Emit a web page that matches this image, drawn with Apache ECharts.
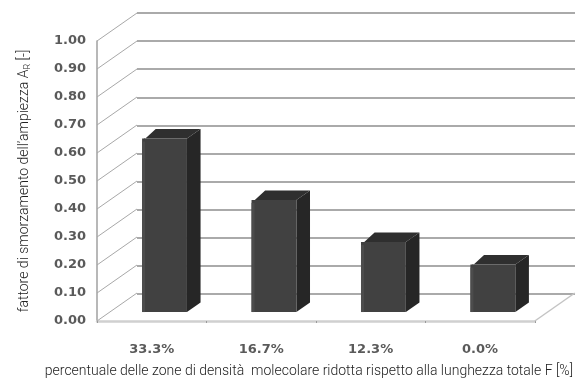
<!DOCTYPE html>
<html>
<head>
<meta charset="utf-8">
<script src="https://cdn.jsdelivr.net/npm/echarts@6/dist/echarts.min.js"></script>
<style>
  html, body { margin: 0; padding: 0; background: #fff; }
  #chart { width: 576px; height: 383px; }
</style>
</head>
<body>
<div id="chart"></div>
<script>
var categories = ['33.3%', '16.7%', '12.3%', '0.0%'];
var values = [0.62, 0.40, 0.25, 0.17];
var yTicks = [0, 0.1, 0.2, 0.3, 0.4, 0.5, 0.6, 0.7, 0.8, 0.9, 1.0];

// front plane and back wall of the fake 3d box
var front = { left: 97, right: 41, top: 41, bottom: 61 };
var back = { left: 137, right: 1, top: 13, bottom: 89 };
var DX = back.left - front.left;
var DY = back.top - front.top;

var barWidth = 0.41;
var depth0 = 0.32, depth1 = 0.66;

var chart = echarts.init(document.getElementById('chart'));

function renderBar(params, api) {
    var c = api.coord([api.value(0), api.value(1)]);
    var b = api.coord([api.value(0), 0]);
    var band = api.size([1, 0])[0];
    var w = band * barWidth;
    var xl = c[0] - w / 2 + depth0 * DX;
    var xr = xl + w;
    var yt = c[1] + depth0 * DY;
    var yb = b[1] + depth0 * DY;
    var ox = (depth1 - depth0) * DX;
    var oy = (depth1 - depth0) * DY;
    return {
        type: 'group',
        children: [
            { type: 'polygon', shape: { points: [[xr, yt], [xr + ox, yt + oy], [xr + ox, yb + oy], [xr, yb]] },
              style: { fill: '#262626' } },
            { type: 'polygon', shape: { points: [[xl + 2, yt], [xr, yt], [xr + ox, yt + oy], [xl + ox, yt + oy], [xl, yt + 3]] },
              style: { fill: '#2f2f2f' } },
            { type: 'rect', shape: { x: xl, y: yt, width: w, height: yb - yt },
              style: { fill: '#414141' } },
            { type: 'rect', shape: { x: xl, y: yt + 3, width: 3, height: yb - yt - 3 },
              style: { fill: '#4c4c4c' } }
        ]
    };
}

function renderWall(params, api) {
    var p = api.coord([0, api.value(1)]);
    var band = api.size([1, 0])[0];
    var x0 = p[0] - band / 2;
    return {
        type: 'line',
        shape: { x1: x0, y1: p[1], x2: x0 + DX, y2: p[1] + DY },
        style: { stroke: '#a8a8a8', lineWidth: 1 }
    };
}

function renderFloorEdge(params, api) {
    var p = api.coord([categories.length - 1, 0]);
    var band = api.size([1, 0])[0];
    var x0 = p[0] + band / 2;
    return {
        type: 'line',
        shape: { x1: x0, y1: p[1], x2: x0 + DX, y2: p[1] + DY },
        style: { stroke: '#c4c4c4', lineWidth: 1.5 }
    };
}

var option = {
    animation: false,
    backgroundColor: '#fff',
    grid: [
        { left: front.left, right: front.right, top: front.top, bottom: front.bottom },
        { left: back.left, right: back.right, top: back.top, bottom: back.bottom }
    ],
    xAxis: [{
        type: 'category',
        gridIndex: 0,
        data: categories,
        axisLine: { lineStyle: { color: '#d0d0d0', width: 2.5 } },
        axisTick: { show: true, length: 2, lineStyle: { color: '#999' } },
        axisLabel: {
            margin: 22,
            color: '#5a5a5a',
            fontFamily: 'DejaVu Sans',
            fontWeight: 'bold',
            fontSize: 13
        },
        name: 'percentuale delle zone di densità  molecolare ridotta rispetto alla lunghezza totale F [%]',
        nameLocation: 'middle',
        nameGap: 43,
        nameTextStyle: {
            color: '#222',
            fontFamily: 'Roboto',
            fontWeight: 300,
            fontSize: 14,
            padding: [0, 14, 0, 0]
        }
    }, {
        type: 'category',
        gridIndex: 1,
        data: categories,
        show: false
    }],
    yAxis: [{
        type: 'value',
        gridIndex: 0,
        min: 0,
        max: 1,
        interval: 0.1,
        axisLine: { show: true, lineStyle: { color: '#a0a0a0', width: 1.5 } },
        axisTick: { show: false },
        splitLine: { show: false },
        axisLabel: {
            margin: 11,
            color: '#5a5a5a',
            fontFamily: 'DejaVu Sans',
            fontWeight: 'bold',
            fontSize: 13,
            formatter: function (val) {
                return val.toFixed(2);
            }
        },
        name: 'fattore di smorzamento dell\u2019ampiezza A{sub|R} [-]',
        nameLocation: 'middle',
        nameGap: 65,
        nameTextStyle: {
            color: '#222',
            fontFamily: 'Roboto',
            fontWeight: 300,
            fontSize: 14,
            rich: {
                sub: { fontFamily: 'Roboto', fontWeight: 300, fontSize: 9, color: '#222', verticalAlign: 'bottom', padding: [7, 0, 0, 0] }
            }
        }
    }, {
        type: 'value',
        gridIndex: 1,
        min: 0,
        max: 1,
        interval: 0.1,
        axisLine: { show: false },
        axisTick: { show: false },
        axisLabel: { show: false },
        splitLine: { show: true, lineStyle: { color: '#8e8e8e', width: 1.5 } }
    }],
    series: [{
        type: 'custom',
        xAxisIndex: 0,
        yAxisIndex: 0,
        clip: false,
        silent: true,
        z: 1,
        renderItem: renderWall,
        data: yTicks.map(function (v) { return [0, v]; })
    }, {
        type: 'custom',
        xAxisIndex: 0,
        yAxisIndex: 0,
        clip: false,
        silent: true,
        z: 1,
        renderItem: renderFloorEdge,
        data: [[categories.length - 1, 0]]
    }, {
        type: 'custom',
        xAxisIndex: 0,
        yAxisIndex: 0,
        clip: false,
        z: 5,
        renderItem: renderBar,
        data: values.map(function (v, i) { return [i, v]; })
    }]
};
chart.setOption(option);
</script>
</body>
</html>
